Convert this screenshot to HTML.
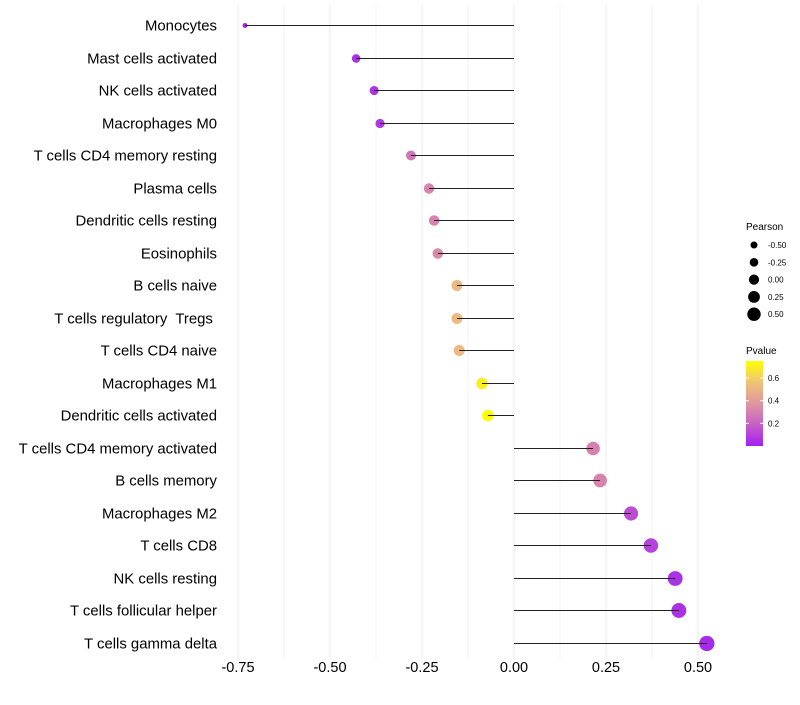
<!DOCTYPE html>
<html><head><meta charset="utf-8"><style>
body{margin:0;background:#fff}
svg{font-family:"Liberation Sans",sans-serif}
text{white-space:pre}
</style></head><body>
<svg id="c" width="800" height="700"></svg>
<script>
const categories=["Monocytes","Mast cells activated","NK cells activated","Macrophages M0","T cells CD4 memory resting","Plasma cells","Dendritic cells resting","Eosinophils","B cells naive","T cells regulatory  Tregs ","T cells CD4 naive","Macrophages M1","Dendritic cells activated","T cells CD4 memory activated","B cells memory","Macrophages M2","T cells CD8","NK cells resting","T cells follicular helper","T cells gamma delta"];
const pearson=[-0.731,-0.429,-0.380,-0.364,-0.280,-0.231,-0.217,-0.207,-0.155,-0.155,-0.149,-0.087,-0.071,0.215,0.234,0.318,0.372,0.438,0.448,0.524];
const pvalue=[0.02,0.05,0.06,0.07,0.27,0.31,0.31,0.33,0.52,0.52,0.52,0.70,0.74,0.30,0.31,0.13,0.10,0.05,0.05,0.03];
const xTicks=[-0.75,-0.5,-0.25,0,0.25,0.5];
const xTickLabels=["-0.75","-0.50","-0.25","0.00","0.25","0.50"];
const sizeLegend=[-0.5,-0.25,0,0.25,0.5];
const sizeLegendLabels=["-0.50","-0.25","0.00","0.25","0.50"];
const pTicks=[0.2,0.4,0.6];

const NS="http://www.w3.org/2000/svg",svg=document.getElementById('c');
function mk(t,a,p){const e=document.createElementNS(NS,t);for(const k in a)e.setAttribute(k,a[k]);(p||svg).appendChild(e);return e;}
const x=v=>514+v*368;
const y=i=>Math.round(25+i*32.5)+0.5;
const r=v=>Math.sqrt(Math.max(4,6+(v+0.731)*42));
const stops=[[0,[160,32,240]],[0.25,[200,95,200]],[0.5,[222,150,160]],[0.75,[240,195,120]],[1,[255,255,0]]];
function col(p){let t=Math.min(1,Math.max(0,p/0.75));for(let i=0;i<stops.length-1;i++){const[a,ca]=stops[i],[b,cb]=stops[i+1];if(t<=b){const f=(t-a)/(b-a);return`rgb(${ca.map((c,j)=>Math.round(c+(cb[j]-c)*f)).join(',')})`;}}}
for(let v=-0.75;v<=0.5001;v+=0.125){const l=mk('line',{x1:x(v),x2:x(v),y1:5,y2:660,stroke:'#ebebeb','stroke-width':Math.abs(v/0.25-Math.round(v/0.25))<1e-6?1:0.6});
}
xTicks.forEach((v,i)=>{const t=mk('text',{x:x(v),y:672,'text-anchor':'middle','font-size':14.5,fill:'#000'});t.textContent=xTickLabels[i];
});
categories.forEach((c,i)=>{
const t=mk('text',{x:217,y:y(i)+5,'text-anchor':'end','font-size':14.9,fill:'#000'});t.textContent=c;

const ci=mk('circle',{cx:x(pearson[i]),cy:y(i),r:r(pearson[i]),fill:col(pvalue[i])});

const l=mk('line',{x1:x(pearson[i]),x2:x(0),y1:y(i),y2:y(i),stroke:'#222','stroke-width':1.1});

});
let tt=mk('text',{x:746,y:230,'font-size':10});tt.textContent="Pearson";

sizeLegend.forEach((v,i)=>{const cy=245+i*17.3;
const c=mk('circle',{cx:754,cy:cy,r:3.5+i*0.8,fill:'#000'});
const t=mk('text',{x:768,y:cy+3,'font-size':8});t.textContent=sizeLegendLabels[i];});
tt=mk('text',{x:746,y:354,'font-size':10});tt.textContent="Pvalue";

const defs=mk('defs',{}),g=mk('linearGradient',{id:'pg',x1:0,y1:1,x2:0,y2:0},defs);
for(let k=0;k<=10;k++)mk('stop',{offset:k/10,'stop-color':col(0.75*k/10)},g);
const bar=mk('rect',{x:746,y:361,width:17,height:85,fill:'url(#pg)'});

const py=p=>446-p/0.75*85;
pTicks.forEach(p=>{mk('line',{x1:746,x2:749,y1:py(p),y2:py(p),stroke:'#fff'});mk('line',{x1:760,x2:763,y1:py(p),y2:py(p),stroke:'#fff'});
const t=mk('text',{x:768,y:py(p)+3,'font-size':8});t.textContent=p.toFixed(1);});
</script>
</body></html>
